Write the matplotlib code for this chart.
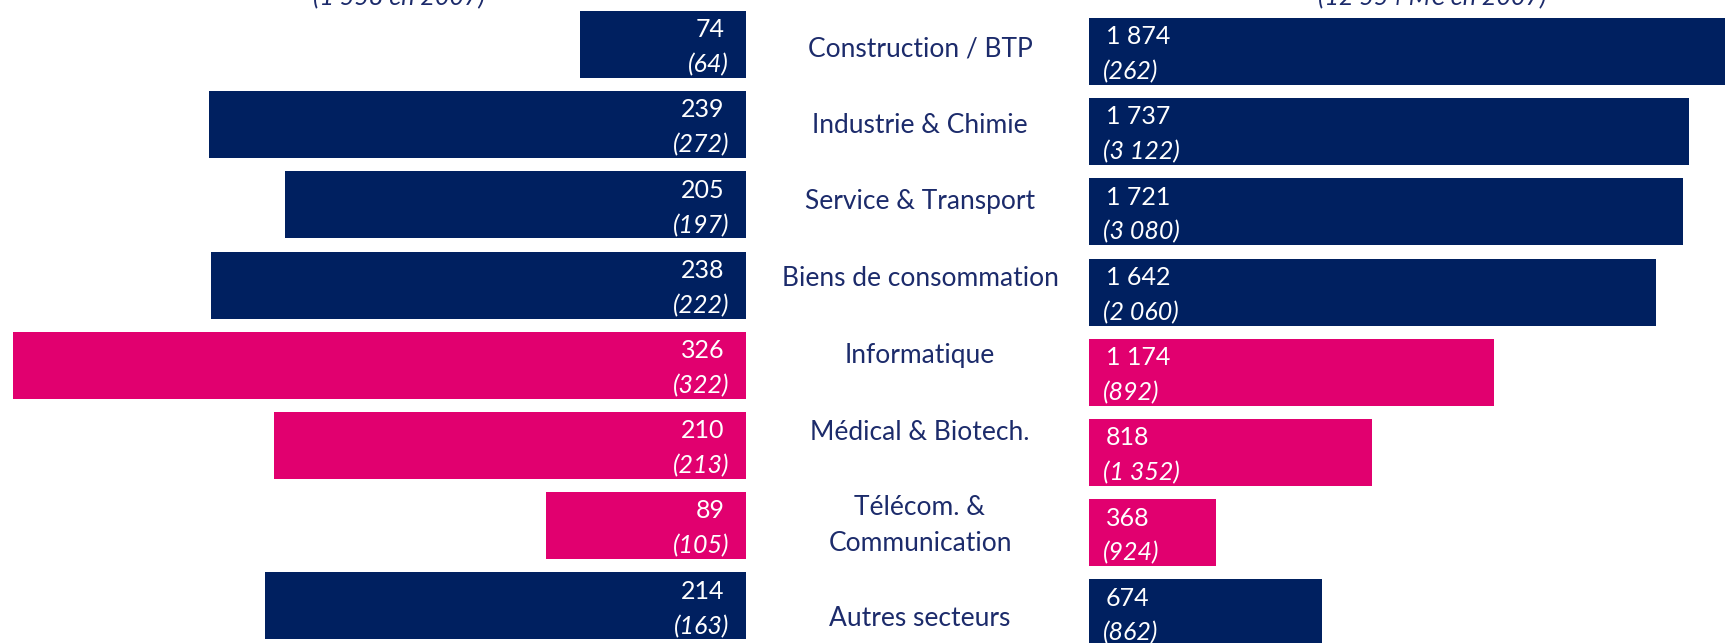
import matplotlib
matplotlib.use("Agg")
import matplotlib.pyplot as plt
from matplotlib import transforms

plt.rcParams['font.family'] = ['Lato', 'DejaVu Sans']

# secteurs (du haut vers le bas)
secteurs = ["Construction / BTP", "Industrie & Chimie", "Service & Transport",
            "Biens de consommation", "Informatique", "Médical & Biotech.",
            "Télécom. &\nCommunication", "Autres secteurs"]
# nombre d'operations 2008 et (2007)
nb_2008 = [74, 239, 205, 238, 326, 210, 89, 214]
nb_2007 = [64, 272, 197, 222, 322, 213, 105, 163]
# montants en M€ 2008 et (2007)
mt_2008 = [1874, 1737, 1721, 1642, 1174, 818, 368, 674]
mt_2007 = [262, 3122, 3080, 2060, 892, 1352, 924, 862]
# secteurs technologiques en rose
techno = [False, False, False, False, True, True, True, False]

NAVY = '#002060'
PINK = '#E1006F'
TXT = '#1c2b6b'

W, H = 1725, 643
fig = plt.figure(figsize=(W / 100, H / 100), dpi=100)

def fmt(v):
    return f"{v:,}".replace(",", " ")

colors = [PINK if t else NAVY for t in techno]
ys = list(range(len(secteurs)))

# gauche : nombre d'operations, barres vers la gauche
axl = fig.add_axes([0, 0, 746 / W, 1])
axl.barh(ys, nb_2008, height=0.835, color=colors)
axl.set_xlim(332, 0)
axl.set_ylim(7.463, -0.555)
axl.axis('off')
for y, a, b in zip(ys, nb_2008, nb_2007):
    axl.text(9.5, y - 0.09, fmt(a), ha='right', va='baseline', color='white', fontsize=18)
    axl.text(7.5, y + 0.35, f"({fmt(b)})", ha='right', va='baseline', color='white',
             fontsize=18, style='italic')

# droite : montants
axr = fig.add_axes([1089 / W, 0, (W - 1089) / W, 1])
axr.barh(ys, mt_2008, height=0.835, color=colors)
axr.set_xlim(0, (W - 1089) / 0.3454)
axr.set_ylim(7.375, -0.642)
axr.axis('off')
for y, a, b in zip(ys, mt_2008, mt_2007):
    axr.text(49, y - 0.09, fmt(a), ha='left', va='baseline', color='white', fontsize=18)
    axr.text(40, y + 0.347, f"({fmt(b)})", ha='left', va='baseline', color='white',
             fontsize=18, style='italic')

# libelles au centre
nudge = [0.02, -0.02, -0.075, -0.11, -0.15, -0.19, -0.034, 0.125]
tr = transforms.blended_transform_factory(fig.transFigure, axl.transData)
for y, lab, dy in zip(ys, secteurs, nudge):
    lines = lab.split("\n")
    n = len(lines)
    for k, line in enumerate(lines):
        yy = y + dy + (k - (n - 1) / 2) * 0.443 + 0.125
        fig.text(920 / W, yy, line, transform=tr, ha='center', va='baseline',
                 color=TXT, fontsize=19)

# sous-titres (coupes en haut de l'image)
fig.text(399 / W, 1 - 5 / H, f"({fmt(sum(nb_2007))} en 2007)", ha='center',
         va='baseline', color=TXT, fontsize=18, style='italic')
fig.text(1432 / W, 1 - 5 / H, f"({fmt(sum(mt_2007))} M€ en 2007)", ha='center',
         va='baseline', color=TXT, fontsize=18, style='italic')

fig.savefig("out.png", dpi=100)
